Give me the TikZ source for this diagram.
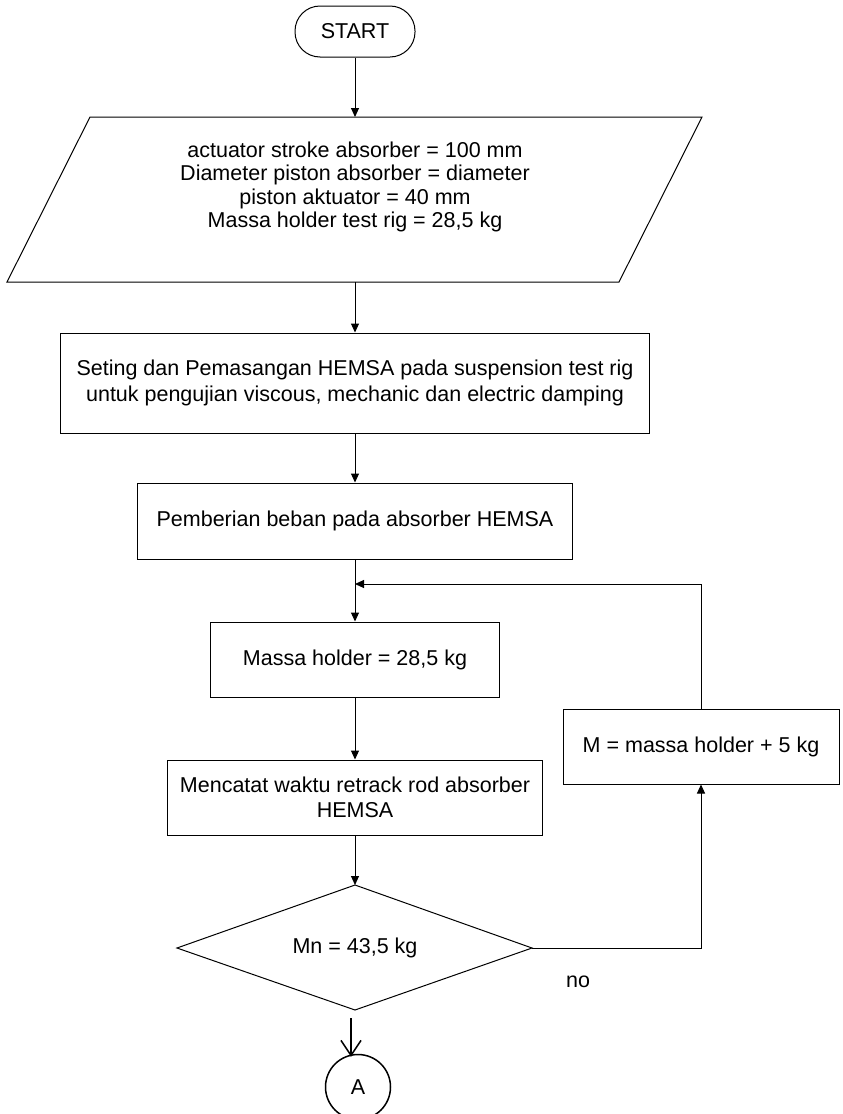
\documentclass[tikz,border=0pt]{standalone}
\usepackage{fontspec}
\setmainfont{Liberation Sans}
\usetikzlibrary{arrows.meta}
\begin{document}
\begin{tikzpicture}[x=1pt,y=-1pt,
  line width=1pt,
  every node/.style={font=\fontsize{21.5}{25.5}\selectfont},
  box/.style={draw, rectangle, align=center, inner sep=0pt},
  flow/.style={-{Triangle[length=9pt,width=8pt]}},
]
\path[use as bounding box] (0,0) rectangle (843,1114);
\clip (0,0) rectangle (843,1114);

% start
\node[box, rounded corners=25pt, minimum width=120pt, minimum height=51pt] (start) at (355,31.5) {START};

% input parallelogram
\coordinate (pTL) at (90,117);
\coordinate (pTR) at (702,117);
\coordinate (pBR) at (619,282);
\coordinate (pBL) at (7,282);
\draw (pTL) -- (pTR) -- (pBR) -- (pBL) -- cycle;
\coordinate (pTop) at (355,117);
\coordinate (pBot) at (355,282);
\node[align=center, inner sep=0pt, font=\fontsize{21.5}{23.5}\selectfont] (para) at (355,187) {actuator stroke absorber = 100 mm\\Diameter piston absorber = diameter\\piston aktuator = 40 mm\\Massa holder test rig = 28,5 kg};

\node[box, minimum width=589pt, minimum height=100pt] (b2) at (355,383) {Seting dan Pemasangan HEMSA pada suspension test rig\\untuk pengujian viscous, mechanic dan electric damping};
\node[box, minimum width=435pt, minimum height=76pt] (b3) at (355,521) {Pemberian beban pada absorber HEMSA};
\node[box, minimum width=289pt, minimum height=75pt] (b4) at (355,659.5) {Massa holder = 28,5 kg};
\node[box, minimum width=375pt, minimum height=75pt] (b5) at (355,797.5) {Mencatat waktu retrack rod absorber\\HEMSA};
\node[box, minimum width=276pt, minimum height=75pt] (bM) at (701,746.5) {M = massa holder + 5 kg};

% decision diamond
\coordinate (dTop) at (355,885);
\coordinate (dRight) at (532,948);
\coordinate (dBot) at (355,1010);
\coordinate (dLeft) at (177,948);
\draw (dTop) -- (dRight) -- (dBot) -- (dLeft) -- cycle;
\node[inner sep=0pt] (dia) at (355,948) {Mn = 43,5 kg};

\node[inner sep=0pt] (no) at (578,982) {no};
\node[draw, circle, line width=1.5pt, inner sep=0pt, minimum size=65pt] (A) at (358,1087) {A};

\coordinate (join) at (355,584);
\coordinate (aTop) at (351,1018);

\draw[flow] (start.south) -- (pTop);
\draw[flow] (pBot) -- (b2.north);
\draw[flow] (b2.south) -- (b3.north);
\draw[flow] (b3.south) -- (b4.north);
\draw[flow] (b4.south) -- (b5.north);
\draw[flow] (b5.south) -- (dTop);
\draw[flow] (dRight) -| (bM.south);
\draw[flow] (bM.north) |- (join);
\draw[line width=1.5pt, -{Straight Barb[length=15pt,width=20pt,line width=1.5pt]}] (aTop) -- ([yshift=-3pt]aTop |- A.north);
\end{tikzpicture}
\end{document}
